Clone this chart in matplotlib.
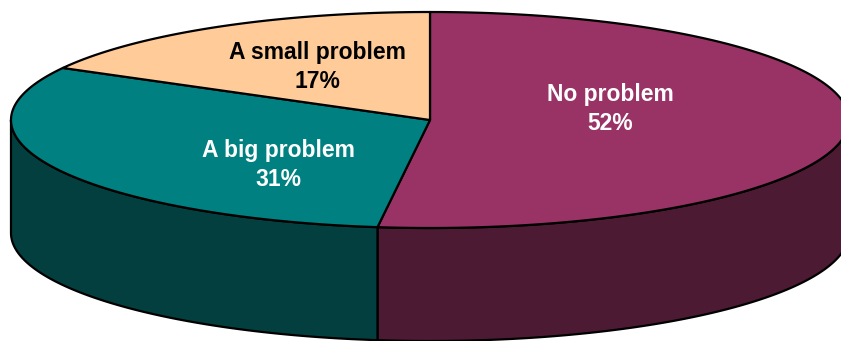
import numpy as np
import matplotlib.pyplot as plt
from matplotlib.patches import Polygon

labels = ["No problem", "A big problem", "A small problem"]
values = [52, 31, 17]
top_colors = ["#993366", "#008080", "#FFCC99"]
side_colors = ["#4D1A33", "#033F3F", "#806650"]
text_colors = ["white", "white", "black"]

# geometry in pixel coordinates of the 841x341 image
cx, cy, rx, ry, depth = 430, 120, 419, 108, 113
label_xy = [(610, 109), (278, 165), (317, 67)]


def arc(a1, a2, n=200):
    t = np.radians(np.linspace(a1, a2, n))
    return np.column_stack([cx + rx * np.cos(t), cy - ry * np.sin(t)])


fig = plt.figure(figsize=(8.41, 3.41), dpi=100)
ax = fig.add_axes([0, 0, 1, 1])
ax.set_xlim(0, 841)
ax.set_ylim(341, 0)
ax.axis("off")

total = sum(values)
starts = []
a = 90.0
for v in values:
    starts.append((a, a - v / total * 360))
    a -= v / total * 360

# sides (front half only)
for (a1, a2), sc in zip(starts, side_colors):
    for k in (-1, 0, 1):
        lo, hi = max(a2, -180 + 360 * k), min(a1, 0 + 360 * k)
        if hi > lo:
            top = arc(hi, lo)
            bot = top[::-1] + [0, depth]
            ax.add_patch(Polygon(np.vstack([top, bot]), closed=True,
                                 facecolor=sc, edgecolor="black", lw=1.6,
                                 joinstyle="round"))

# top face
for (a1, a2), tc in zip(starts, top_colors):
    poly = np.vstack([[cx, cy], arc(a1, a2)])
    ax.add_patch(Polygon(poly, closed=True, facecolor=tc,
                         edgecolor="black", lw=1.6, joinstyle="round"))

for lab, v, (x, y), c in zip(labels, values, label_xy, text_colors):
    ax.text(x, y - 15, lab, ha="center", va="center", color=c,
            fontsize=16.5, fontweight="bold", family="Liberation Sans")
    ax.text(x, y + 15, f"{v}%", ha="center", va="center", color=c,
            fontsize=16.5, fontweight="bold", family="Liberation Sans")

fig.savefig("out.png", dpi=100)
